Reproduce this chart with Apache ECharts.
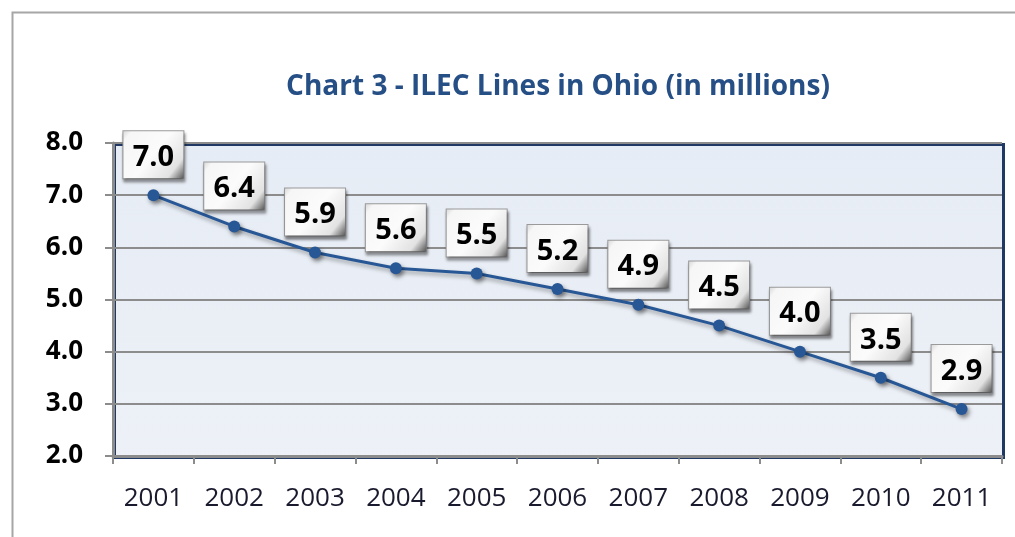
<!DOCTYPE html>
<html>
<head>
<meta charset="utf-8">
<script src="https://cdn.jsdelivr.net/npm/echarts@6/dist/echarts.min.js"></script>
<style>
html,body{margin:0;padding:0;background:#fff;}
#chart{width:1015px;height:537px;}
</style>
</head>
<body>
<div id="chart"></div>
<script>
const titleText = 'Chart 3 - ILEC Lines in Ohio (in millions)';
const years = ['2001','2002','2003','2004','2005','2006','2007','2008','2009','2010','2011'];
const lines = [7.0, 6.4, 5.9, 5.6, 5.5, 5.2, 4.9, 4.5, 4.0, 3.5, 2.9];
const yMin = 2, yMax = 8, yStep = 1;

const chart = echarts.init(document.getElementById('chart'));
const bevelH = new echarts.graphic.LinearGradient(0, 0, 1, 1, [
  {offset: 0, color: '#d4d4d4'},
  {offset: 0.1, color: '#f6f6f6'},
  {offset: 0.5, color: '#fbfbfb'},
  {offset: 0.82, color: '#e2e2e2'},
  {offset: 1, color: '#4a4a4a'}
]);
chart.setOption({
  animation: false,
  title: {
    text: titleText,
    left: 553, top: 68, textAlign: 'center',
    textStyle: {fontFamily: 'Open Sans', fontWeight: 'bold', fontSize: 28, color: '#264F86'}
  },
  graphic: [{
    type: 'rect', left: 10, top: 10, silent: true, z: -1,
    shape: {width: 1100, height: 700},
    style: {fill: 'none', stroke: '#a6a6a6', lineWidth: 2}
  }, {
    type: 'rect', left: 113, top: 143, silent: true, z: -1,
    shape: {width: 889, height: 313},
    style: {fill: new echarts.graphic.LinearGradient(0,0,0,1,[{offset:0,color:'#e6ecf5'},{offset:1,color:'#edf1f7'}]), stroke: '#1f3864', lineWidth: 3}
  }],
  grid: {left: 113, right: 13, top: 143, bottom: 81, containLabel: false},
  xAxis: {
    type: 'category', data: years, boundaryGap: true,
    axisLine: {lineStyle: {color: '#8c8c8c', width: 3}},
    axisTick: {show: true, length: 8, lineStyle: {color: '#8c8c8c', width: 2}},
    axisLabel: {fontFamily: 'Open Sans', fontSize: 26, color: '#1a1a2e', margin: 30}
  },
  yAxis: {
    type: 'value', min: yMin, max: yMax, interval: yStep,
    axisLine: {show: true, lineStyle: {color: '#8c8c8c', width: 3}},
    axisTick: {show: true, length: 8, lineStyle: {color: '#8c8c8c', width: 2}},
    splitLine: {lineStyle: {color: '#8c8c8c', width: 2}},
    axisLabel: {fontFamily: 'Open Sans', fontWeight: 'bold', fontSize: 26, color: '#000', margin: 30,
      formatter: v => v.toFixed(1)}
  },
  series: [{
    type: 'line', data: lines,
    symbol: 'circle', symbolSize: 12,
    lineStyle: {color: '#285796', width: 3, shadowColor: 'rgba(0,0,0,0.35)', shadowBlur: 4, shadowOffsetX: 2, shadowOffsetY: 3},
    itemStyle: {color: '#285796', shadowColor: 'rgba(0,0,0,0.45)', shadowBlur: 4, shadowOffsetX: 2, shadowOffsetY: 3},
    label: {
      show: true, position: 'top', distance: 11,
      formatter: p => p.value.toFixed(1),
      fontFamily: 'Open Sans', fontWeight: 'bold', fontSize: 29, color: '#000',
      width: 60, height: 41, align: 'center', lineHeight: 41,
      padding: [6, 0, 0, 0],
      backgroundColor: bevelH,
      borderColor: '#9a9a9a', borderWidth: 1,
      shadowColor: 'rgba(0,0,0,0.45)', shadowBlur: 3, shadowOffsetX: 1, shadowOffsetY: 3
    }
  }]
});
</script>
</body>
</html>
